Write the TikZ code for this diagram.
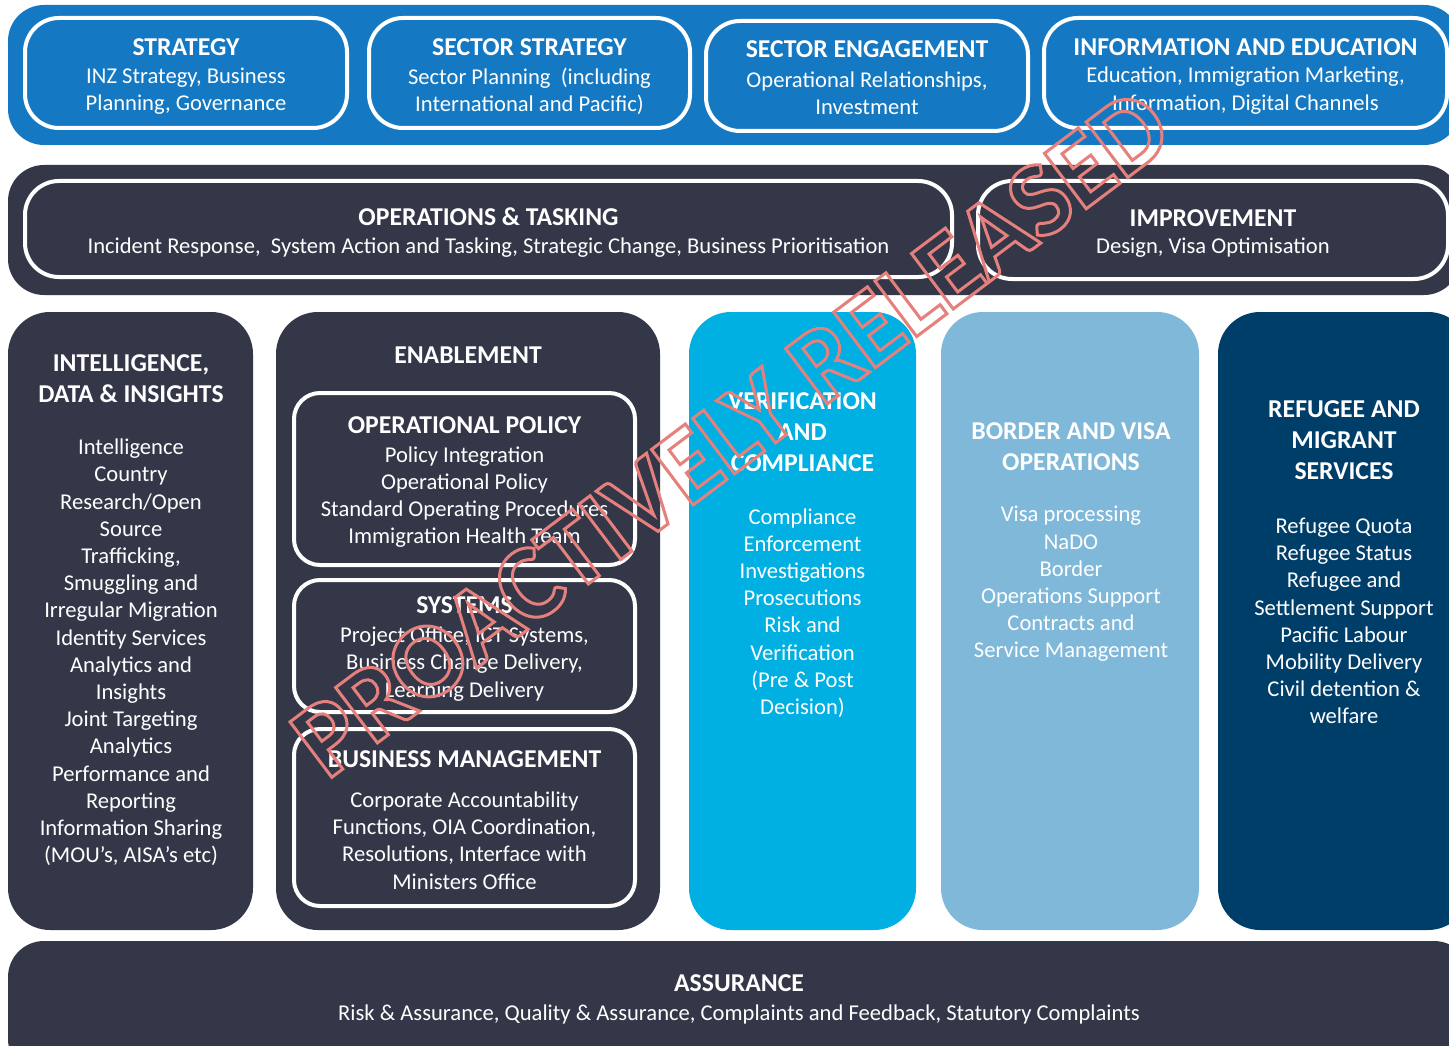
\documentclass[tikz,border=0pt]{standalone}
\usepackage{fontspec}
\setmainfont{Carlito}
\definecolor{bandblue}{HTML}{1479C2}
\definecolor{darkgrey}{HTML}{333748}
\definecolor{cyancol}{HTML}{00B0E2}
\definecolor{lightcol}{HTML}{80B8DA}
\definecolor{navycol}{HTML}{003E6A}
\definecolor{wmpink}{HTML}{E5807C}
\begin{document}
\begin{tikzpicture}[x=1pt,y=-1pt,
  band/.style={rectangle, rounded corners=36pt, inner sep=0pt, draw=none},
  wbox/.style={rectangle, draw=white, line width=4pt, rounded corners=34pt, inner sep=0pt},
  ibox/.style={rectangle, draw=white, line width=4pt, rounded corners=26pt, inner sep=0pt},
  colbox/.style={rectangle, rounded corners=42pt, inner sep=0pt, draw=none},
  ttl/.style={text=white, font=\fontsize{25.7}{31}\selectfont\bfseries, align=center, inner sep=0pt},
  bdy/.style={text=white, font=\fontsize{22.6}{27.2}\selectfont, align=center, inner sep=0pt},
  wm/.style={font=\bfseries\fontsize{107}{107}\selectfont, inner sep=0pt}
]
\useasboundingbox (0,0) rectangle (1449,1046);
\clip (0,0) rectangle (1449,1046);
\fill[white] (0,0) rectangle (1449,1046);

% top blue band
\node[band, fill=bandblue, minimum width=1452pt, minimum height=140pt] (topband) at (734,75) {};
\node[wbox, minimum width=322pt, minimum height=110pt] (strategy) at (186,73) {};
\node[wbox, minimum width=321pt, minimum height=110pt] (sectorstrat) at (529.5,73) {};
\node[wbox, minimum width=322pt, minimum height=110pt] (sectoreng) at (867,76) {};
\node[wbox, minimum width=403pt, minimum height=110pt] (infoedu) at (1245.5,73) {};

\node[ttl] (strategyT) at (186,47) {STRATEGY};
\node[bdy] (strategyB) at (186,91.5) {INZ Strategy, Business\\Planning, Governance};
\node[ttl] (sectorstratT) at (529.5,47) {SECTOR STRATEGY};
\node[bdy] (sectorstratB) at (529.5,91.5) {Sector Planning\ \ (including\\International and Pacific)};
\node[ttl] (sectorengT) at (867,49) {SECTOR ENGAGEMENT};
\node[bdy] (sectorengB) at (867,93) {Operational Relationships,\\Investment};
\node[ttl] (infoeduT) at (1245.5,47) {INFORMATION AND EDUCATION};
\node[bdy] (infoeduB) at (1245.5,90.5) {Education, Immigration Marketing,\\Information, Digital Channels};

% operations band
\node[band, fill=darkgrey, minimum width=1452pt, minimum height=130pt] (opsband) at (734,230) {};
\node[wbox, minimum width=927pt, minimum height=96pt] (ops) at (488.5,229) {};
\node[wbox, minimum width=470pt, minimum height=98pt] (improve) at (1213,230) {};
\node[ttl] (opsT) at (488.5,217) {OPERATIONS \& TASKING};
\node[bdy] (opsB) at (488.5,248) {Incident Response,\ \ System Action and Tasking, Strategic Change, Business Prioritisation};
\node[ttl] (improveT) at (1213,218) {IMPROVEMENT};
\node[bdy] (improveB) at (1213,248) {Design, Visa Optimisation};

% columns
\node[colbox, fill=darkgrey, minimum width=245pt, minimum height=618pt] (intel) at (130.5,621) {};
\node[ttl] (intelT) at (131,378.5) {INTELLIGENCE,\\DATA \& INSIGHTS};
\node[bdy] (intelB) at (131,652.5) {Intelligence\\Country\\Research/Open\\Source\\Trafficking,\\Smuggling and\\Irregular Migration\\Identity Services\\Analytics and\\Insights\\Joint Targeting\\Analytics\\Performance and\\Reporting\\Information Sharing\\(MOU’s, AISA’s etc)};

\node[colbox, fill=darkgrey, minimum width=384pt, minimum height=618pt] (enable) at (468,621) {};
\node[ttl] (enableT) at (468,355) {ENABLEMENT};
\node[ibox, minimum width=341pt, minimum height=172pt] (oppol) at (464.5,479) {};
\node[ttl] (oppolT) at (464.5,425) {OPERATIONAL POLICY};
\node[bdy] (oppolB) at (464.5,497) {Policy Integration\\Operational Policy\\Standard Operating Procedures\\Immigration Health Team};
\node[ibox, minimum width=341pt, minimum height=132pt] (systems) at (464.5,646) {};
\node[ttl] (systemsT) at (464.5,605) {SYSTEMS};
\node[bdy] (systemsB) at (464.5,664) {Project Office, ICT Systems,\\Business Change Delivery,\\Learning Delivery};
\node[ibox, minimum width=341pt, minimum height=177pt] (bizmgmt) at (464.5,817.5) {};
\node[ttl] (bizmgmtT) at (464.5,759) {BUSINESS MANAGEMENT};
\node[bdy] (bizmgmtB) at (464.5,840.5) {Corporate Accountability\\Functions, OIA Coordination,\\Resolutions, Interface with\\Ministers Office};

\node[colbox, fill=cyancol, minimum width=227pt, minimum height=618pt] (verif) at (802.5,621) {};
\node[ttl] (verifT) at (802.5,432) {VERIFICATION\\AND\\COMPLIANCE};
\node[bdy] (verifB) at (802.5,613) {Compliance\\Enforcement\\Investigations\\Prosecutions\\Risk and\\Verification\\(Pre \& Post\\Decision)};

\node[colbox, fill=lightcol, minimum width=258pt, minimum height=618pt] (border) at (1070,621) {};
\node[ttl] (borderT) at (1071,446.5) {BORDER AND VISA\\OPERATIONS};
\node[bdy] (borderB) at (1071,584) {Visa processing\\NaDO\\Border\\Operations Support\\Contracts and\\Service Management};

\node[colbox, fill=navycol, minimum width=252pt, minimum height=618pt] (refugee) at (1344,621) {};
\node[ttl] (refugeeT) at (1344,440) {REFUGEE AND\\MIGRANT\\SERVICES};
\node[bdy] (refugeeB) at (1344,621) {Refugee Quota\\Refugee Status\\Refugee and\\Settlement Support\\Pacific Labour\\Mobility Delivery\\Civil detention \&\\welfare};

% assurance
\node[band, fill=darkgrey, minimum width=1462pt, minimum height=134pt] (assure) at (739,1008) {};
\node[ttl] (assureT) at (739,983) {ASSURANCE};
\node[bdy] (assureB) at (739,1014) {Risk \& Assurance, Quality \& Assurance, Complaints and Feedback, Statutory Complaints};

% watermark
\node[wm, rotate=37] (watermark) at (731,433) {\special{pdf:code 0.898 0.502 0.486 RG 3 w 1 Tr}PROACTIVELY RELEASED\special{pdf:code 0 Tr}};
\end{tikzpicture}
\end{document}
